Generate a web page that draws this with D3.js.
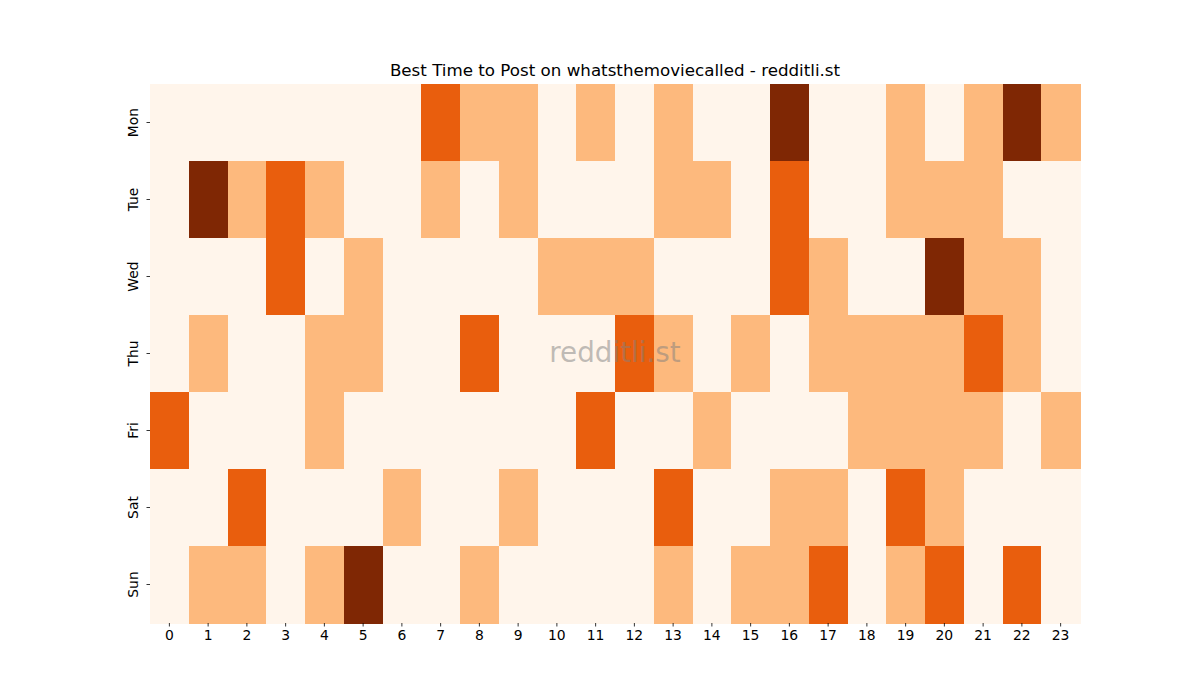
<!DOCTYPE html>
<html><head><meta charset="utf-8">
<script src="https://cdn.jsdelivr.net/npm/d3@7"></script>
<style>body{margin:0;background:#fff}svg{display:block}text{font-family:"DejaVu Sans",sans-serif}</style>
</head><body>
<svg id="c" width="1200" height="700"></svg>
<script>
const days = ["Mon","Tue","Wed","Thu","Fri","Sat","Sun"];
const hours = ["0","1","2","3","4","5","6","7","8","9","10","11","12","13","14","15","16","17","18","19","20","21","22","23"];
const mon = [0,0,0,0,0,0,0,2,1,1,0,1,0,1,0,0,3,0,0,1,0,1,3,1];
const tue = [0,3,1,2,1,0,0,1,0,1,0,0,0,1,1,0,2,0,0,1,1,1,0,0];
const wed = [0,0,0,2,0,1,0,0,0,0,1,1,1,0,0,0,2,1,0,0,3,1,1,0];
const thu = [0,1,0,0,1,1,0,0,2,0,0,0,2,1,0,1,0,1,1,1,1,2,1,0];
const fri = [2,0,0,0,1,0,0,0,0,0,0,2,0,0,1,0,0,0,1,1,1,1,0,1];
const sat = [0,0,2,0,0,0,1,0,0,1,0,0,0,2,0,0,1,1,0,2,1,0,0,0];
const sun = [0,1,1,0,1,3,0,0,1,0,0,0,0,1,0,1,1,2,0,1,2,0,2,0];
const rows = [mon,tue,wed,thu,fri,sat,sun];
const levelColors = ["#fff5eb","#fdb97d","#e95e0d","#7f2704"];

const svg = d3.select("#c");
const L=150,R=1080,T=84,B=623;
const x = d3.scaleBand().domain(hours).range([L,R]);
const y = d3.scaleBand().domain(days).range([T,B]);
const color = d3.scaleOrdinal().domain([0,1,2,3]).range(levelColors);

const cells = [];
rows.forEach((r,i)=>r.forEach((v,j)=>cells.push({d:days[i],h:hours[j],v})));
svg.append("g").selectAll("rect").data(cells).join("rect")
  .attr("x",d=>x(d.h)).attr("y",d=>y(d.d))
  .attr("width",x.bandwidth()+0.5).attr("height",y.bandwidth()+0.5)
  .attr("fill",d=>color(d.v)).attr("shape-rendering","crispEdges");

const xa = svg.append("g").attr("transform",`translate(0,${B})`)
  .call(d3.axisBottom(x).tickSize(3.5).tickPadding(3.5));
xa.select(".domain").remove();
xa.selectAll("text").attr("font-size","13.9px").attr("fill","#000").attr("font-family","DejaVu Sans");
xa.selectAll("line").attr("stroke","#000").attr("stroke-width",0.8);

const ya = svg.append("g").attr("transform",`translate(${L},0)`)
  .call(d3.axisLeft(y).tickSize(3.5).tickPadding(3.5));
ya.select(".domain").remove();
ya.selectAll("line").attr("stroke","#000").attr("stroke-width",0.8);
ya.selectAll("text").attr("font-size","13.9px").attr("fill","#000").attr("font-family","DejaVu Sans")
  .attr("x",null).attr("dy",null)
  .attr("text-anchor","middle")
  .attr("transform","translate(-12,0) rotate(-90)")
  .attr("dominant-baseline","auto");

svg.append("text").attr("x",(L+R)/2).attr("y",76).attr("text-anchor","middle")
  .attr("font-size","16.7px").attr("fill","#000").text("Best Time to Post on whatsthemoviecalled - redditli.st");

svg.append("text").attr("x",(L+R)/2).attr("y",(T+B)/2).attr("text-anchor","middle")
  .attr("dominant-baseline","middle")
  .attr("font-size","27.8px").attr("fill","#808080").attr("fill-opacity",0.5).text("redditli.st");
</script>
</body></html>
